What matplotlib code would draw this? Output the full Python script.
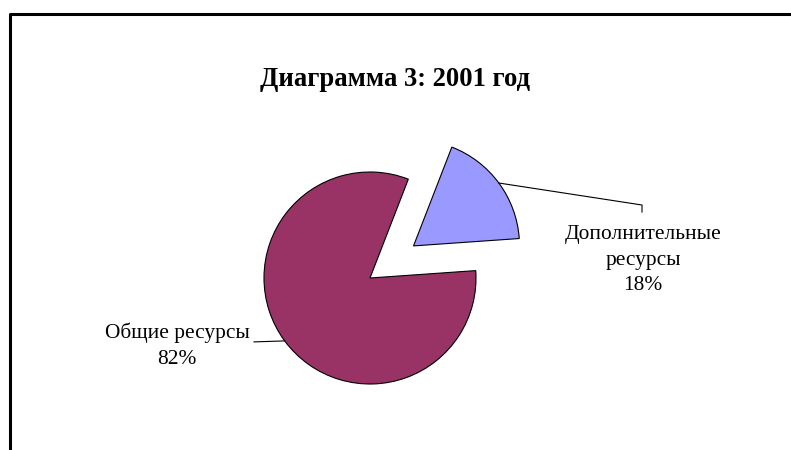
import numpy as np
import matplotlib.pyplot as plt
from matplotlib.lines import Line2D

plt.rcParams['font.family'] = ['Liberation Serif', 'DejaVu Serif']

# Data
labels = ['Общие ресурсы', 'Дополнительные\nресурсы']
values = [82, 18]
colors = ['#993366', '#9999FF']
explode = [0, 0.51]  # fraction of radius
title = 'Диаграмма 3: 2001 год'

W, H = 791, 450
fig = plt.figure(figsize=(W / 100, H / 100), dpi=100)
ax = fig.add_axes([0, 0, 1, 1])

cx, cy, r = 370, H - 278, 106
wedges, _ = ax.pie(values, colors=colors, explode=[e * r for e in explode],
                   startangle=68.8, counterclock=True, center=(cx, cy), radius=r,
                   wedgeprops=dict(edgecolor='black', linewidth=0.8))
ax.set_xlim(0, W)
ax.set_ylim(0, H)
ax.set_aspect('equal')
ax.axis('off')

# Leader lines and labels
total = sum(values)
w0, w1 = wedges
# Общие ресурсы
a = np.deg2rad((w0.theta1 + w0.theta2) / 2)
x0 = w0.center[0] + w0.r * np.cos(a)
y0 = w0.center[1] + w0.r * np.sin(a)
ax.plot([x0, 254], [y0, y0 - 1], color='black', lw=0.8)
ax.text(177, H - 346, f'{labels[0]}\n{values[0] / total:.0%}', ha='center', va='center',
        fontsize=15.4, linespacing=1.5)
# Дополнительные ресурсы
a = np.deg2rad((w1.theta1 + w1.theta2) / 2)
x1 = w1.center[0] + w1.r * np.cos(a)
y1 = w1.center[1] + w1.r * np.sin(a)
ax.plot([x1, 642, 642], [y1, H - 205, H - 212], color='black', lw=0.8)
ax.text(643, H - 260, f'{labels[1]}\n{values[1] / total:.0%}', ha='center', va='center',
        fontsize=15.4, linespacing=1.5)

# Title
fig.text(395 / W, 1 - 79 / H, title, ha='center', va='center', fontsize=19.2,
         fontweight='bold')

# Chart frame (partly cropped)
fig.add_artist(Line2D([10 / W, 10 / W, 1.0], [0, 1 - 14 / H, 1 - 14 / H],
                      transform=fig.transFigure, color='black', lw=2.2))

fig.savefig('out.png', dpi=100)
